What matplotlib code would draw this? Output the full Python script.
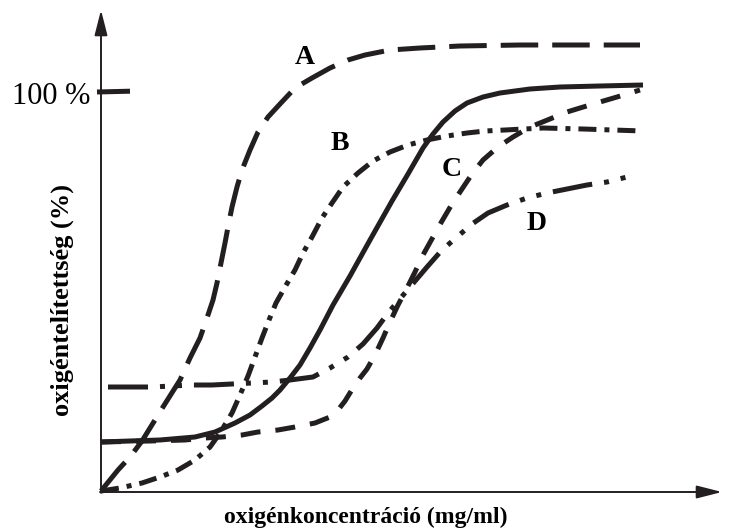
import matplotlib
matplotlib.use('Agg')
import matplotlib.pyplot as plt

# oxygen concentration (arb. units) vs saturation (%)
a_x = [0, 0.34, 0.58, 0.82, 1.24, 1.58, 1.78, 1.98, 2.12, 2.24, 2.32, 2.40, 2.48, 2.54, 2.62, 2.72,
       2.82, 2.98, 3.14, 3.34, 3.58, 3.88, 4.22, 4.58, 4.94, 5.28, 5.78, 6.38, 7.18, 8.38, 9.58, 10.78]
a_y = [0.25, 5.5, 8.75, 12.75, 21.25, 28, 33.5, 38.5, 43.5, 48, 52.25, 57.25, 62.25, 66.25, 71.25, 76.25,
       80.5, 85.5, 90, 93.75, 97, 101, 103.5, 106, 108, 109.25, 110.5, 111, 111.5, 111.75, 111.75, 111.75]

b_x = [0, 0.38, 0.82, 1.18, 1.54, 1.88, 2.18, 2.38, 2.62, 2.78, 2.94, 3.08, 3.22, 3.36, 3.5, 3.68, 3.88,
       4.04, 4.22, 4.42, 4.62, 4.84, 5.14, 5.44, 5.78, 6.14, 6.52, 6.92, 7.32, 7.68, 8.08, 8.84, 9.64, 10.84]
b_y = [0.25, 1, 2.25, 3.75, 5.5, 8, 11.25, 14.75, 19.75, 24.25, 29, 33.75, 38.5, 43, 47.25, 51.25, 55.5,
       59.75, 63.75, 68.5, 72.25, 76.25, 79.75, 82.75, 85, 86.75, 88, 89, 89.75, 90.25, 90.5, 91, 90.75, 90.25]

s_x = [0, 0.58, 1.18, 1.88, 2.28, 2.68, 2.98, 3.22, 3.42, 3.58, 3.78, 3.98, 4.18, 4.38, 4.64, 4.98,
       5.38, 5.82, 6.14, 6.44, 6.64, 6.84, 7.08, 7.32, 7.64, 7.98, 8.58, 9.18, 9.98, 10.84]
s_y = [12.5, 12.75, 13, 13.75, 15, 17.25, 19.25, 21.5, 23.5, 25.5, 28.5, 31.75, 36, 40.5, 46.75, 54,
       63, 72.75, 79.5, 86, 89.5, 92.5, 95.25, 97.25, 98.75, 99.75, 100.75, 101.25, 101.5, 101.75]

c_x = [0, 0.98, 1.68, 2.08, 2.42, 2.82, 3.14, 3.54, 3.88, 4.28, 4.58, 4.74, 4.88, 5.04, 5.18, 5.32, 5.48,
       5.64, 5.78, 5.94, 6.12, 6.28, 6.44, 6.64, 6.82, 7.02, 7.22, 7.42, 7.64, 7.94, 8.24, 8.58, 8.88,
       9.32, 9.58, 9.98, 10.32, 10.78]
c_y = [12.5, 12.75, 13, 13.5, 13.75, 14.25, 15, 15.5, 16.25, 17.25, 18.75, 20.5, 22.75, 26, 28.5, 30.75,
       34.25, 38.5, 42.5, 46.75, 51, 55, 59.25, 63.75, 67.75, 72, 75.75, 79.5, 83, 86.25, 88.75, 91.25,
       92.75, 95, 96, 97.5, 98.75, 100.5]

d_x = [0.14, 0.58, 1.02, 1.82, 2.22, 3.02, 3.42, 3.78, 4.24, 4.58, 4.94, 5.24, 5.52, 5.74, 5.96, 6.18,
       6.52, 6.82, 7.12, 7.42, 7.74, 8.12, 8.52, 8.92, 9.32, 9.72, 10.12, 10.52]
d_y = [26.25, 26.25, 26.25, 26.75, 26.75, 27.25, 27.5, 28, 28.75, 31, 33.75, 37, 41, 44.75, 48, 51.25,
       56.25, 60.5, 63.75, 67, 69.75, 71.75, 73.5, 74.75, 75.75, 76.75, 77.5, 78.75]

labels = ['A', 'B', 'C', 'D']
label_x = [4.08, 4.78, 7.02, 8.72]
label_y = [108.5, 87, 80.75, 67.25]

plt.rcParams['font.family'] = ['Liberation Serif', 'DejaVu Serif']

fig = plt.figure(figsize=(7.38, 5.29), dpi=100)
ax = fig.add_axes([0, 0, 1, 1])
ax.set_xlim(-2.02, 12.74)
ax.set_ylim(-9.25, 123)
ax.axis('off')

ink = '#231f20'
kw = dict(color=ink, lw=3.6, dash_capstyle='butt', solid_capstyle='butt', solid_joinstyle='round')
ax.plot(a_x, a_y, linestyle=(0, (7.5, 2.8)), **kw)
ax.plot(b_x, b_y, linestyle=(0, (3.6, 1.6, 1, 1.6)), **kw)
ax.plot(s_x, s_y, linestyle='-', **kw)
ax.plot(c_x, c_y, linestyle=(0, (4, 3)), **kw)
ax.plot(d_x, d_y, linestyle=(0, (8, 2.4, 1, 2.4, 1, 2.4)), **kw)

# axes with arrow heads
arr = dict(arrowstyle='-|>,head_length=1.1,head_width=0.28', lw=1.4, color=ink,
           shrinkA=0, shrinkB=0, mutation_scale=14)
ax.annotate('', xy=(0, 120.5), xytext=(0, -0.2), arrowprops=arr)
ax.annotate('', xy=(12.42, 0), xytext=(-0.02, 0), arrowprops=arr)

# 100 % mark
ax.plot([-0.08, 0.58], [100, 100.2], color=ink, lw=3.6, solid_capstyle='butt')
ax.text(-0.22, 98.75, '100 %', ha='right', va='center', fontsize=22)

for lab, lx, ly in zip(labels, label_x, label_y):
    ax.text(lx, ly, lab, ha='center', va='center', fontsize=20, fontweight='bold')

ax.text(5.3, -6.25, 'oxigénkoncentráció (mg/ml)', ha='center', va='center',
        fontsize=17, fontweight='bold')
ax.text(-0.78, 48, 'oxigéntelítettség (%)', ha='center', va='center',
        rotation=90, fontsize=19, fontweight='bold')

plt.savefig('out.png', dpi=100)
